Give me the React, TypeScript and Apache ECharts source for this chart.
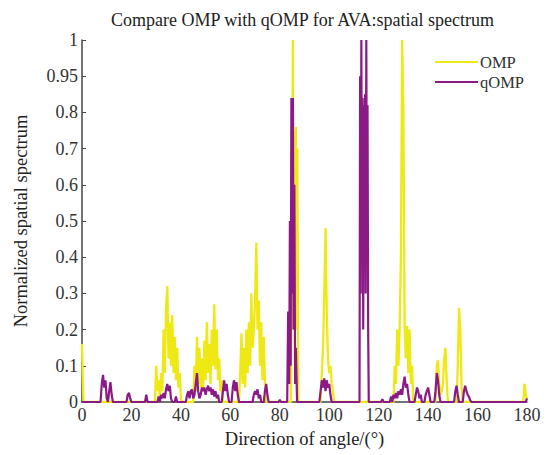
import React, { useEffect, useRef } from "react";
import * as echarts from "echarts";

const xTicks = [0, 20, 40, 60, 80, 100, 120, 140, 160, 180];
const yTickLabels: Record<string, string> = {
  "0": "0", "0.1": "0.1", "0.2": "0.2", "0.3": "0.3", "0.4": "0.4", "0.5": "0.5",
  "0.6": "0.6", "0.7": "0.7", "0.8": "0.8", "0.9": "0.95", "1": "1",
};

// OMP spectrum (angle in degrees, normalized value)
const ompAngles = [
  0, 0.3, 0.6,
  29.5, 30, 30.5, 31, 31.5, 32, 32.5, 33, 33.5, 34, 34.5, 35, 35.5, 36, 36.5, 37, 37.5, 38, 38.5, 39, 39.5, 40, 40.5,
  45, 45.5, 46, 46.5, 47, 47.5, 48, 48.5, 49, 49.5, 50, 50.5, 51, 51.5, 52, 52.5, 53, 53.5, 54, 54.5, 55, 55.5, 56, 56.5, 57,
  63.5, 64, 64.5, 65, 65.5, 66, 66.5, 67, 67.5, 68, 68.5, 69, 69.5, 70, 70.5, 71, 71.5, 72, 72.5, 73, 73.5, 74, 74.5,
  84.5, 85, 85.3, 85.6, 85.9, 86.2, 86.5, 86.8, 87.1, 87.5,
  96.5, 97, 97.5, 98, 98.5, 99, 99.5, 100, 100.5, 101, 101.5, 102,
  126, 126.5, 127, 127.5, 128, 128.5, 129, 129.5, 130, 130.5, 131, 131.5, 132, 132.5, 133, 133.5, 134,
  143, 143.5, 144, 144.5, 145, 145.5, 146, 146.5, 147, 147.5, 148,
  151.5, 152, 152.5, 153, 153.5, 154,
  178.5, 179, 179.5, 180,
];
const ompValues = [
  0.16, 0.07, 0,
  0, 0.1, 0.03, 0.06, 0.01, 0.08, 0.03, 0.2, 0.08, 0.26, 0.32, 0.12, 0.22, 0.1, 0.24, 0.08, 0.18, 0.06, 0.15, 0.04, 0.08, 0.01, 0,
  0, 0.1, 0.03, 0.18, 0.05, 0.15, 0.04, 0.12, 0.03, 0.17, 0.06, 0.22, 0.08, 0.16, 0.05, 0.2, 0.1, 0.27, 0.09, 0.2, 0.06, 0.12, 0.03, 0.06, 0,
  0, 0.08, 0.19, 0.05, 0.15, 0.04, 0.2, 0.08, 0.22, 0.1, 0.3, 0.15, 0.2, 0.28, 0.44, 0.2, 0.28, 0.1, 0.22, 0.06, 0.18, 0.05, 0,
  0, 0.5, 1.0, 0.2, 0.75, 0.3, 0.76, 0.2, 0.7, 0,
  0, 0.08, 0.15, 0.3, 0.48, 0.25, 0.12, 0.08, 0.1, 0.05, 0.03, 0,
  0, 0.1, 0.05, 0.2, 0.1, 0.21, 0.4, 1.0, 0.8, 0.2, 0.12, 0.21, 0.08, 0.2, 0.05, 0.1, 0,
  0, 0.1, 0.115, 0.05, 0.02, 0.03, 0.05, 0.12, 0.15, 0.06, 0,
  0, 0.1, 0.26, 0.2, 0.05, 0,
  0, 0.05, 0.02, 0.01,
];

// qOMP spectrum
const qompAngles = [
  0, 7.5, 8, 8.5, 9, 9.5, 10, 10.5, 11, 11.5, 12, 12.5,
  18, 18.5, 19, 19.5, 20,
  25.5, 26, 26.5,
  30.5, 31, 31.5, 32, 32.5, 33, 33.5, 34, 34.5, 35, 35.5, 36, 36.5,
  37.5, 38, 38.5,
  42, 42.5, 43, 43.5, 44, 44.5, 45, 45.5, 46, 46.5, 47, 47.5, 48, 48.5, 49, 49.5, 50, 50.5, 51, 51.5, 52, 52.5,
  53, 53.5, 54, 54.5, 55, 55.5, 56, 56.5, 57, 57.5, 58, 58.5, 59, 59.5, 60, 60.5, 61, 61.5, 62, 62.5, 63, 63.5,
  69, 69.5, 70, 70.5, 71, 71.5, 72, 72.5, 73, 73.5, 74, 74.5, 75, 75.5,
  79.5, 80, 80.5,
  83, 83.4, 83.8, 84.1, 84.4, 84.7, 85, 85.3, 85.6, 85.9, 86.2, 86.5, 87,
  96, 96.5, 97, 97.5, 98, 98.5, 99, 99.5, 100, 100.5, 101,
  112.25, 112.5, 112.75, 113, 113.25, 113.5, 113.75, 114, 114.25, 114.5, 114.75, 115, 115.25, 115.5, 115.75, 116,
  121, 121.5, 122,
  124.5, 125, 125.5, 126, 126.5, 127, 127.5, 128, 128.5, 129, 129.5, 130, 130.5, 131, 131.5, 132, 132.5,
  134.5, 135, 135.5, 136, 136.5, 137, 137.5, 138, 138.5, 139, 139.5, 140, 140.5, 141, 141.5, 142, 142.5, 143, 143.5, 144, 144.5, 145,
  150.5, 151, 151.5, 152, 152.5, 153, 153.5, 154, 154.5, 155, 155.5, 156, 156.5, 157, 157.5,
  179.5, 180,
];
const qompValues = [
  0, 0, 0.05, 0.075, 0.04, 0.06, 0.01, 0, 0.03, 0.055, 0.02, 0,
  0, 0.02, 0.025, 0.01, 0,
  0, 0.02, 0,
  0, 0.015, 0, 0.02, 0.01, 0.025, 0.01, 0.035, 0.05, 0.03, 0.045, 0.01, 0,
  0, 0.015, 0,
  0, 0.02, 0.03, 0.01, 0.03, 0.035, 0.01, 0.02, 0.05, 0.08, 0.03, 0.01, 0.02, 0.04, 0.03, 0.04, 0.02, 0.035, 0.045, 0.03, 0.04, 0.02,
  0.035, 0.015, 0.03, 0.01, 0.02, 0, 0, 0, 0.03, 0.06, 0.03, 0.05, 0.02, 0, 0, 0, 0.04, 0.06, 0.03, 0.055, 0.02, 0,
  0, 0.02, 0.03, 0.02, 0.035, 0.01, 0.02, 0, 0, 0, 0.03, 0.05, 0.02, 0,
  0, 0.006, 0,
  0, 0.25, 0.05, 0.5, 0.1, 0.84, 0.3, 0.84, 0.2, 0.6, 0.05, 0.15, 0,
  0, 0.03, 0.06, 0.04, 0.065, 0.03, 0.06, 0.04, 0.05, 0.02, 0,
  0, 0.9, 0.3, 1.0, 0.4, 0.84, 0.2, 0.82, 0.5, 0.85, 0.3, 1.0, 0.4, 0.82, 0.2, 0,
  0, 0.008, 0,
  0, 0.015, 0, 0.02, 0.01, 0.025, 0.01, 0.03, 0.02, 0.035, 0.02, 0.05, 0.07, 0.04, 0.05, 0.02, 0,
  0, 0.02, 0.04, 0.03, 0.01, 0.02, 0, 0, 0, 0.02, 0.03, 0.04, 0.02, 0, 0, 0, 0, 0.03, 0.08, 0.06, 0.02, 0,
  0, 0.03, 0.045, 0.02, 0, 0, 0, 0, 0.03, 0.045, 0.03, 0.02, 0.015, 0.005, 0,
  0, 0.01,
];

const FONT = "Liberation Serif";

export default function App() {
  const ref = useRef<HTMLDivElement>(null);
  useEffect(() => {
    if (!ref.current) return;
    const chart = echarts.init(ref.current, undefined, { renderer: "svg" });
    const omp = ompAngles.map((a, i) => [a, ompValues[i]]);
    const qomp = qompAngles.map((a, i) => [a, qompValues[i]]);
    chart.setOption({
      animation: false,
      backgroundColor: "#ffffff",
      title: {
        text: "Compare OMP with qOMP for AVA:spatial spectrum",
        left: 106,
        top: 6,
        textStyle: { fontFamily: FONT, fontSize: 18, fontWeight: "normal", color: "#222" },
      },
      legend: {
        orient: "vertical",
        left: 430,
        top: 48,
        icon: "rect",
        itemWidth: 43,
        itemHeight: 2,
        itemGap: 2,
        textStyle: { fontFamily: FONT, fontSize: 16.5, color: "#333", padding: [0, 0, 0, -3], lineHeight: 18 },
        data: ["OMP", "qOMP"],
      },
      grid: { left: 82, right: 21, top: 40, bottom: 53, containLabel: false },
      xAxis: {
        type: "value",
        min: 0,
        max: 180,
        interval: 20,
        name: "Direction of angle/(°)",
        nameLocation: "middle",
        nameGap: 27,
        nameTextStyle: { fontFamily: FONT, fontSize: 18.5, color: "#222" },
        axisLine: { show: true, lineStyle: { color: "#444", width: 1.5 } },
        axisTick: { show: false },
        splitLine: { show: false },
        axisLabel: {
          fontFamily: FONT, fontSize: 18, color: "#333", margin: 4,
          formatter: (v: number) => (xTicks.includes(v) ? String(v) : ""),
        },
      },
      yAxis: {
        type: "value",
        min: 0,
        max: 1,
        interval: 0.1,
        name: "Normalized spatial spectrum",
        nameLocation: "middle",
        nameGap: 52,
        nameTextStyle: { fontFamily: FONT, fontSize: 18.5, color: "#222" },
        axisLine: { show: true, lineStyle: { color: "#444", width: 1.5 } },
        axisTick: { show: true, inside: true, length: 4, lineStyle: { color: "#444" } },
        splitLine: { show: false },
        axisLabel: {
          fontFamily: FONT, fontSize: 18, color: "#333", margin: 4,
          formatter: (v: number) => {
            const k = String(Math.round(v * 10) / 10);
            return yTickLabels[k] ?? "";
          },
        },
      },
      series: [
        {
          name: "OMP",
          type: "line",
          data: omp,
          symbol: "none",
          color: "#eee914",
          lineStyle: { color: "#eee914", width: 2.3 },
          z: 2,
        },
        {
          name: "qOMP",
          type: "line",
          data: qomp,
          symbol: "none",
          color: "#8b1a87",
          lineStyle: { color: "#8b1a87", width: 2.2 },
          z: 3,
        },
      ],
    });
    return () => chart.dispose();
  }, []);
  return (
    <div
      ref={ref}
      style={{ position: "absolute", left: 0, top: 0, width: 548, height: 455 }}
    />
  );
}
